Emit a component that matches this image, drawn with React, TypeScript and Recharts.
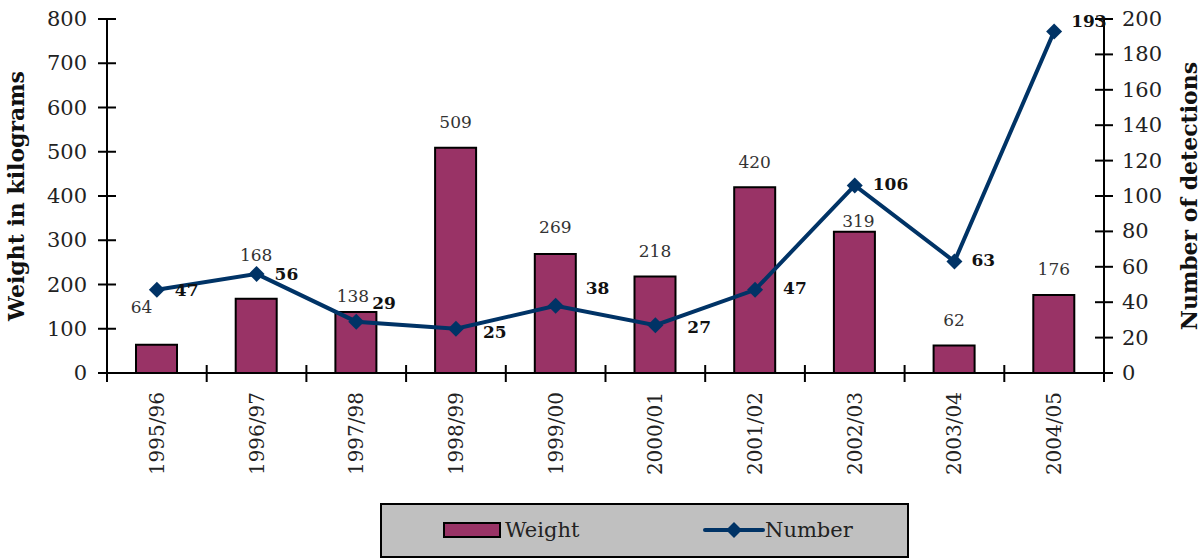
import React from 'react';
import { ComposedChart, Bar, Line, XAxis, YAxis, LabelList } from 'recharts';

const YEARS = ['1995/96', '1996/97', '1997/98', '1998/99', '1999/00', '2000/01', '2001/02', '2002/03', '2003/04', '2004/05'];
const WEIGHT = [64, 168, 138, 509, 269, 218, 420, 319, 62, 176];
const NUMBER = [47, 56, 29, 25, 38, 27, 47, 106, 63, 193];
const WEIGHT_TICKS = [0, 100, 200, 300, 400, 500, 600, 700, 800];
const NUMBER_TICKS = [0, 20, 40, 60, 80, 100, 120, 140, 160, 180, 200];

// label nudges, picked to match where the original had them
const BAR_LABEL_GAP = [32, 38, 10, 20, 21, 20, 19, 5, 20, 20];
const BAR_LABEL_DX = [-15, 0, -3, 0, 0, 0, 0, 4, 0, 0];
const LINE_LABEL_DX = [18, 18, 16, 27, 30, 32, 28, 18, 17, 17];
const LINE_LABEL_DY = [0, 0, -19, 3, -18, 2, -2, -1, -1, -10];

const FONT = '"DejaVu Serif", "Liberation Serif", serif';
const BAR_COLOR = '#993366';
const LINE_COLOR = '#003366';

const data = YEARS.map((year, i) => ({ year, weight: WEIGHT[i], number: NUMBER[i] }));

const Diamond = (props: any) => {
  const { cx, cy } = props;
  if (cx == null || cy == null) return null;
  const r = 8;
  return <polygon points={`${cx},${cy - r} ${cx + r},${cy} ${cx},${cy + r} ${cx - r},${cy}`} fill={LINE_COLOR} />;
};

const LeftTick = (props: any) => {
  const { x, y, payload } = props;
  return (
    <g>
      <line x1={x - 9} x2={x + 9} y1={y} y2={y} stroke="#000" strokeWidth={2} />
      <text x={x - 20} y={y} textAnchor="end" dominantBaseline="central" fontFamily={FONT} fontSize={21} fill="#222">
        {payload.value}
      </text>
    </g>
  );
};

const RightTick = (props: any) => {
  const { x, y, payload } = props;
  return (
    <g>
      <line x1={x - 9} x2={x + 9} y1={y} y2={y} stroke="#000" strokeWidth={2} />
      <text x={x + 18} y={y} textAnchor="start" dominantBaseline="central" fontFamily={FONT} fontSize={21} fill="#222">
        {payload.value}
      </text>
    </g>
  );
};

const BottomTick = (props: any) => {
  const { x, y, payload, index } = props;
  const half = payload.offset || 49.85;
  const ty = y + 19;
  return (
    <g>
      <line x1={x - half} x2={x - half} y1={y - 8} y2={y + 9} stroke="#000" strokeWidth={2} />
      {index === YEARS.length - 1 && (
        <line x1={x + half} x2={x + half} y1={y - 8} y2={y + 9} stroke="#000" strokeWidth={2} />
      )}
      <text
        x={x}
        y={ty}
        transform={`rotate(-90 ${x} ${ty})`}
        textAnchor="end"
        dominantBaseline="central"
        fontFamily={FONT}
        fontSize={20}
        fill="#222"
      >
        {payload.value}
      </text>
    </g>
  );
};

const BarLabel = (props: any) => {
  const { x, y, width, value, index } = props;
  return (
    <text x={x + width / 2 + BAR_LABEL_DX[index]} y={y - BAR_LABEL_GAP[index]} textAnchor="middle" fontFamily={FONT} fontSize={17} fill="#333">
      {value}
    </text>
  );
};

const LineLabel = (props: any) => {
  const { x, y, value, index } = props;
  return (
    <text x={x + LINE_LABEL_DX[index]} y={y + LINE_LABEL_DY[index]} textAnchor="start" dominantBaseline="central" fontFamily={FONT} fontWeight="bold" fontSize={17} fill="#111">
      {value}
    </text>
  );
};

const AxisTitle = ({ viewBox, value, dx }: any) => {
  const cx = viewBox.x + dx;
  const cy = viewBox.y + viewBox.height / 2;
  return (
    <text x={cx} y={cy} transform={`rotate(-90 ${cx} ${cy})`} textAnchor="middle" dominantBaseline="central" fontFamily={FONT} fontWeight="bold" fontSize={22} fill="#111">
      {value}
    </text>
  );
};

export default function App() {
  return (
    <div style={{ position: 'relative', width: 1201, height: 560, background: '#fff' }}>
      <style>{'body{margin:0}'}</style>
      <ComposedChart width={1201} height={560} data={data} margin={{ top: 19, right: 0, bottom: 0, left: 0 }}>
        <XAxis
          dataKey="year"
          interval={0}
          height={187}
          tickSize={0}
          tickMargin={0}
          tickLine={false}
          axisLine={{ stroke: '#000', strokeWidth: 2 }}
          tick={<BottomTick />}
        />
        <YAxis
          yAxisId="left"
          width={107}
          domain={[0, 800]}
          ticks={WEIGHT_TICKS}
          tickSize={0}
          tickMargin={0}
          tickLine={false}
          axisLine={{ stroke: '#000', strokeWidth: 2 }}
          tick={<LeftTick />}
          label={<AxisTitle value="Weight in kilograms" dx={16} />}
        />
        <YAxis
          yAxisId="right"
          orientation="right"
          width={97}
          domain={[0, 200]}
          ticks={NUMBER_TICKS}
          tickSize={0}
          tickMargin={0}
          tickLine={false}
          axisLine={{ stroke: '#000', strokeWidth: 2 }}
          tick={<RightTick />}
          label={<AxisTitle value="Number of detections" dx={85} />}
        />
        <Bar yAxisId="left" dataKey="weight" fill={BAR_COLOR} stroke="#000" strokeWidth={2} barSize={41} isAnimationActive={false}>
          <LabelList dataKey="weight" content={<BarLabel />} />
        </Bar>
        <Line
          yAxisId="right"
          dataKey="number"
          type="linear"
          stroke={LINE_COLOR}
          strokeWidth={4}
          dot={<Diamond />}
          activeDot={false}
          isAnimationActive={false}
        >
          <LabelList dataKey="number" content={<LineLabel />} />
        </Line>
      </ComposedChart>
      <div
        style={{
          position: 'absolute',
          left: 380,
          top: 503,
          width: 529,
          height: 55,
          boxSizing: 'border-box',
          background: '#c0c0c0',
          border: '2px solid #000',
          fontFamily: FONT,
          fontSize: 21,
          color: '#222',
        }}
      >
        <svg width={60} height={18} style={{ position: 'absolute', left: 61, top: 16 }}>
          <rect x={1} y={2} width={56} height={14} fill={BAR_COLOR} stroke="#000" strokeWidth={2} />
        </svg>
        <span style={{ position: 'absolute', left: 123, top: 12, lineHeight: '26px' }}>Weight</span>
        <svg width={62} height={20} style={{ position: 'absolute', left: 321, top: 15 }}>
          <line x1={2} x2={60} y1={10} y2={10} stroke={LINE_COLOR} strokeWidth={4} strokeLinecap="round" />
          <polygon points="31,2 39,10 31,18 23,10" fill={LINE_COLOR} />
        </svg>
        <span style={{ position: 'absolute', left: 383, top: 12, lineHeight: '26px' }}>Number</span>
      </div>
    </div>
  );
}
